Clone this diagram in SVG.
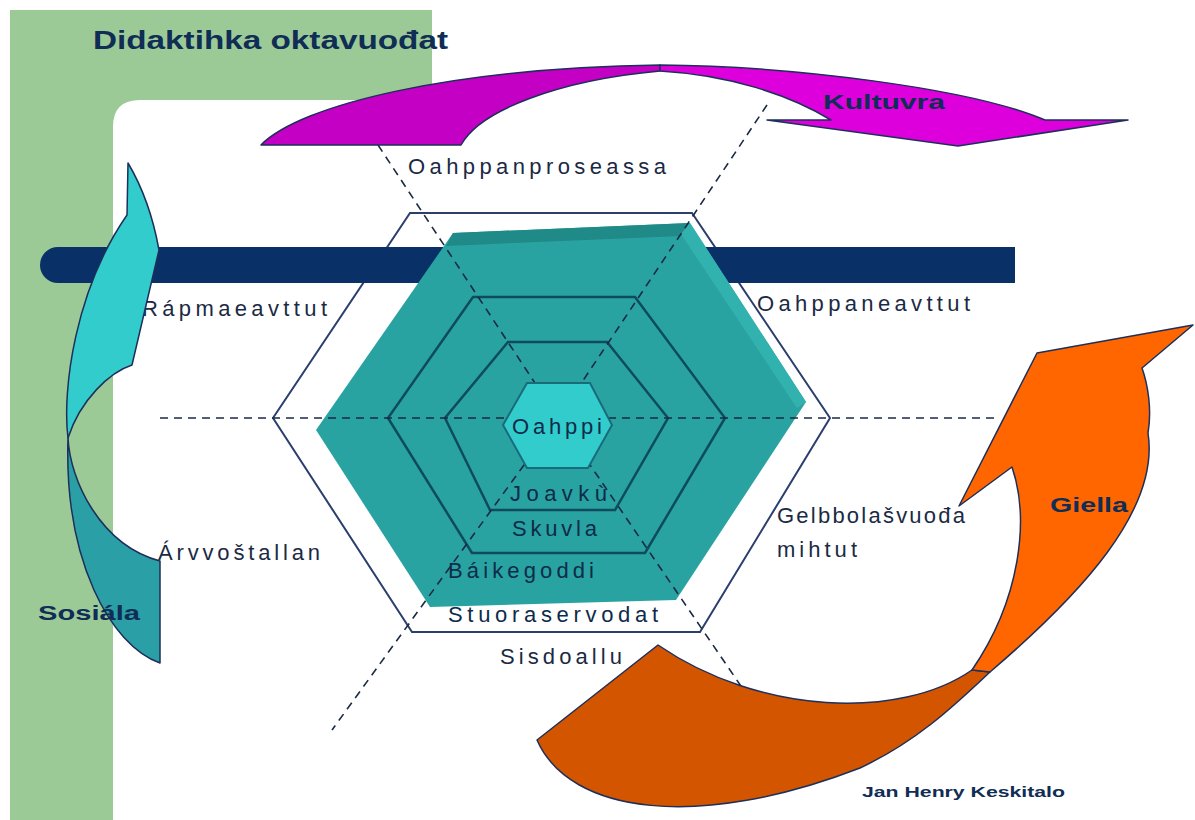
<svg xmlns="http://www.w3.org/2000/svg" width="1195" height="820" viewBox="0 0 1195 820">
<style>
.lbl{font-family:"Liberation Sans",Arial,sans-serif;font-size:22px;fill:#1b2a44}
.in{fill:#0d2b4a}
.bold{font-family:"Liberation Sans",Arial,sans-serif;font-weight:bold;fill:#0f2d55}
.hexl{fill:none;stroke:#0e4b5c;stroke-width:2.5;stroke-linejoin:miter}
.dash{fill:none;stroke:#1b2a44;stroke-width:1.6;stroke-dasharray:8 6}
.edge{stroke:#1d2f5a;stroke-width:1.5;stroke-linejoin:round}
</style>
<rect width="1195" height="820" fill="#ffffff"/>
<g id="background">
<path d="M10,10 H432 V100 H140 Q113,100 113,127 V820 H10 Z" fill="#9cca97"/>
</g>
<g id="outer-hexagon">
<polygon points="410,213 692,213 830,418 700,632 412,632 273,418" fill="none" stroke="#2a3f6e" stroke-width="2"/>
</g>
<g id="bar">
<path d="M58,247 H1015 V283 H58 A18,18 0 0 1 58,247 Z" fill="#0a3068"/>
</g>
<g id="teal-hexagon">
<polygon points="453,233 690,223 806,402 676,600 430,607 316,430" fill="#29a3a2"/>
<polygon points="453,233 690,223 682,236 446,246" fill="#1f8a88"/>
<polygon points="690,223 806,402 797,408 681,234" fill="#31b2af"/>
<polygon class="hexl" points="473,297 635,297 725,418 645,553 472,553 388,418"/>
<polygon class="hexl" points="508,342 607,342 668,418 615,510 490,510 445,418"/>
</g>
<g id="connectors">
<line class="dash" x1="160" y1="418" x2="997" y2="418"/>
<polyline class="dash" points="378,145 558,418 745,692"/>
<polyline class="dash" points="767,105 558,418 332,730"/>
</g>
<g id="oahppi">
<polygon points="527,383 590,383 612,425 588,468 527,468 503,425" fill="#33cccc" stroke="#1a6b7a" stroke-width="2"/>
<text class="lbl in" x="512" y="434" textLength="90" lengthAdjust="spacing">Oahppi</text>
</g>
<g id="ring-labels">
<text class="lbl in" x="510" y="501" textLength="97" lengthAdjust="spacing">Joavkù</text>
<text class="lbl in" x="512" y="536" textLength="85" lengthAdjust="spacing">Skuvla</text>
<text class="lbl in" x="448" y="578" textLength="146" lengthAdjust="spacing">Báikegoddi</text>
<text class="lbl in" x="448" y="622" textLength="210" lengthAdjust="spacing">Stuoraservodat</text>
<text class="lbl" x="500" y="664" textLength="122" lengthAdjust="spacing">Sisdoallu</text>
</g>
<g id="axis-labels">
<text class="lbl" x="408" y="174" textLength="258" lengthAdjust="spacing">Oahppanproseassa</text>
<text class="lbl" x="142" y="316" textLength="185" lengthAdjust="spacing">Rápmaeavttut</text>
<text class="lbl" x="757" y="311" textLength="213" lengthAdjust="spacing">Oahppaneavttut</text>
<text class="lbl" x="158" y="560" textLength="162" lengthAdjust="spacing">Árvvoštallan</text>
<text class="lbl" x="777" y="523" textLength="188" lengthAdjust="spacing">Gelbbolašvuođa</text>
<text class="lbl" x="777" y="557" textLength="80" lengthAdjust="spacing">mihtut</text>
</g>
<g id="kultuvra-arrow">
<path class="edge" d="M261,145 C300,105 450,68 660,65 L660,71 C560,80 480,110 461,145 Z" fill="#c300c3"/>
<path class="edge" d="M660,65 C790,66 970,88 1045,120 L1128,120 L958,146 L767,120 L831,120 C790,95 730,75 660,71 Z" fill="#dd00dd"/>
<text class="bold" x="823" y="109" font-size="20" textLength="122" lengthAdjust="spacingAndGlyphs">Kultuvra</text>
</g>
<g id="sosiala-arrow">
<path class="edge" d="M128,163 Q150,200 159,250 L132,365 C110,372 80,400 68,438 C62,390 75,290 127,215 Z" fill="#33cccc"/>
<path class="edge" d="M68,438 C70,480 100,545 160,561 L160,663 C110,645 64,560 68,438 Z" fill="#2a9fa6"/>
<text class="bold" x="38" y="620" font-size="20" textLength="102" lengthAdjust="spacingAndGlyphs">Sosiála</text>
</g>
<g id="giella-arrow">
<path class="edge" d="M537,740 C570,815 700,830 860,768 C920,740 960,700 990,672 L972,670 C900,720 760,715 658,645 Z" fill="#d45500"/>
<path class="edge" d="M990,672 C1080,595 1160,510 1148,433 C1152,410 1148,385 1142,368 L1193,325 L1037,353 L959,506 L1012,467 C1030,520 1020,600 972,670 Z" fill="#ff6600"/>
<text class="bold" x="1050" y="512" font-size="20" textLength="78" lengthAdjust="spacingAndGlyphs">Giella</text>
</g>
<g id="title">
<text class="bold" x="93" y="49" font-size="26" fill="#103a5c" textLength="355" lengthAdjust="spacingAndGlyphs">Didaktihka oktavuođat</text>
<text class="bold" x="862" y="797" font-size="15" textLength="203" lengthAdjust="spacingAndGlyphs">Jan Henry Keskitalo</text>
</g>
</svg>
